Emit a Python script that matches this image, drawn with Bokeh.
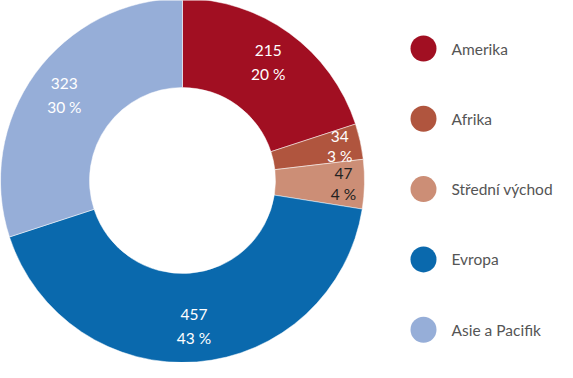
import math
import numpy as np
from bokeh.plotting import figure
from bokeh.models import ColumnDataSource, Range1d
from bokeh.core.properties import value
from bokeh.embed import file_html
from bokeh.resources import INLINE

categories = ["Amerika", "Afrika", "Střední východ", "Evropa", "Asie a Pacifik"]
values = [215, 34, 47, 457, 323]
percents = ["20 %", "3 %", "4 %", "43 %", "30 %"]
colors = ["#A10F22", "#B0553E", "#CC8E76", "#0A69AD", "#96AED8"]
label_colors = ["white", "white", "#222222", "white", "white"]

W, H = 557, 362
cx, cy = 182, H - 180
r_out, r_in = 182, 93

p = figure(width=W, height=H, output_backend="svg", toolbar_location=None,
           x_range=Range1d(0, W), y_range=Range1d(0, H),
           min_border=0, outline_line_color=None)
p.axis.visible = False
p.grid.visible = False
p.background_fill_color = "white"
p.border_fill_color = "white"

total = sum(values)
fr = np.array(values) / total
cum = np.concatenate([[0], np.cumsum(fr)])
# start at 12 o'clock, go clockwise
start = math.pi / 2 - 2 * math.pi * cum[1:]
end = math.pi / 2 - 2 * math.pi * cum[:-1]
mid = (start + end) / 2

src = ColumnDataSource(dict(start=start, end=end, color=colors,
                            x=[cx] * 5, y=[cy] * 5))
p.annular_wedge(x="x", y="y", inner_radius=r_in, outer_radius=r_out,
                start_angle="start", end_angle="end", direction="anticlock",
                fill_color="color", line_color="white", line_width=0.5, source=src)

small = fr < 0.05
r_lab = np.where(small, 161, 146)
lh = np.where(small, 1.15, 1.35)
lsrc = ColumnDataSource(dict(
    x=cx + r_lab * np.cos(mid), y=cy + r_lab * np.sin(mid),
    t=[f"{v}\n{pc}" for v, pc in zip(values, percents)], c=label_colors, lh=lh))
p.text(x="x", y="y", text="t", text_color="c", text_align="center",
       text_baseline="middle", text_font=value("Lato"), text_font_size="15.5px",
       text_line_height="lh", source=lsrc)

idx = np.arange(len(categories))
leg = ColumnDataSource(dict(x=[423] * 5, y=H - (48 + idx * 70.3), c=colors,
                            tx=[451] * 5, t=categories))
p.scatter(x="x", y="y", size=26, fill_color="c", line_color=None, source=leg)
p.text(x="tx", y="y", text="t", text_color="#555555", text_align="left",
       text_baseline="middle", text_font=value("Lato"), text_font_size="15.5px",
       source=leg)

open("out.html", "w").write(file_html(p, INLINE))
